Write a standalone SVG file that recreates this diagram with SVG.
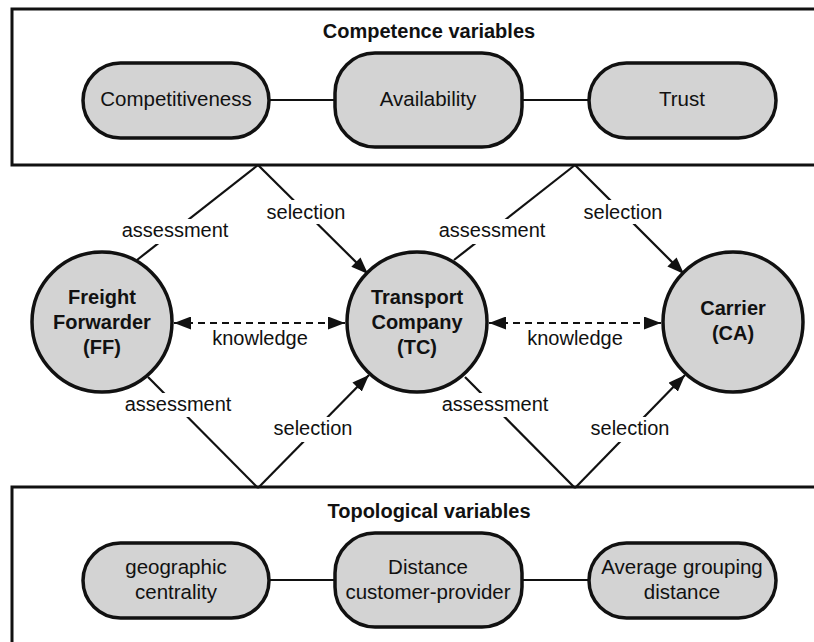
<svg xmlns="http://www.w3.org/2000/svg" width="814" height="642" viewBox="0 0 814 642">
<defs>
<style>
.box{fill:#fff;stroke:#111;stroke-width:3}
.pill{fill:#d3d3d3;stroke:#111;stroke-width:3.5}
.circ{fill:#d3d3d3;stroke:#111;stroke-width:3.5}
.link{stroke:#111;stroke-width:2.2;fill:none}
.dash{stroke:#111;stroke-width:2;fill:none;stroke-dasharray:7 5}
.title{font-family:"Liberation Sans",Arial,sans-serif;font-weight:bold;font-size:20px;fill:#111;text-anchor:middle}
.ptxt{font-family:"Liberation Sans",Arial,sans-serif;font-size:20.5px;fill:#111;text-anchor:middle}
.ctxt{font-family:"Liberation Sans",Arial,sans-serif;font-weight:bold;font-size:20px;fill:#111;text-anchor:middle}
.lbl{font-family:"Liberation Sans",Arial,sans-serif;font-size:20px;fill:#111;text-anchor:middle}
.bg{fill:#fff;stroke:none}
</style>
<marker id="arr" viewBox="0 0 17 13" refX="17" refY="6.5" markerWidth="17" markerHeight="13" markerUnits="userSpaceOnUse" orient="auto-start-reverse">
<path d="M0,0 L17,6.5 L0,13 Z" fill="#111"/>
</marker>
</defs>
<rect width="814" height="642" fill="#fff"/>

<g id="competence-box">
<rect class="box" x="12" y="9" width="812" height="156"/>
<text class="title" x="429" y="38">Competence variables</text>
</g>
<g id="topological-box">
<rect class="box" x="12" y="487" width="812" height="170"/>
<text class="title" x="429" y="518">Topological variables</text>
</g>

<g id="pill-links">
<path class="link" d="M269,100 L335,100 M522,100 L589,100 M269,580 L335,580 M522,580 L589,580"/>
</g>

<g id="competitiveness">
<rect class="pill" x="83" y="63" width="186" height="75" rx="37.5"/>
<text class="ptxt" x="176" y="106">Competitiveness</text>
</g>
<g id="availability">
<rect class="pill" x="335" y="53" width="187" height="94" rx="40"/>
<text class="ptxt" x="428" y="106">Availability</text>
</g>
<g id="trust">
<rect class="pill" x="589" y="63" width="187" height="75" rx="37.5"/>
<text class="ptxt" x="682" y="106">Trust</text>
</g>

<g id="geographic-centrality">
<rect class="pill" x="83" y="543" width="186" height="75" rx="37.5"/>
<text class="ptxt" x="176" y="574">geographic</text>
<text class="ptxt" x="176" y="599">centrality</text>
</g>
<g id="distance-customer-provider">
<rect class="pill" x="335" y="533" width="187" height="94" rx="40"/>
<text class="ptxt" x="428" y="574">Distance</text>
<text class="ptxt" x="428" y="599">customer-provider</text>
</g>
<g id="average-grouping-distance">
<rect class="pill" x="589" y="543" width="187" height="75" rx="37.5"/>
<text class="ptxt" x="682" y="574">Average grouping</text>
<text class="ptxt" x="682" y="599">distance</text>
</g>

<g id="connectors">
<path class="link" d="M258,165 L137,260"/>
<path class="link" d="M258,165 L368,274" marker-end="url(#arr)"/>
<path class="link" d="M148,377 L258,488"/>
<path class="link" d="M258,488 L369,375" marker-end="url(#arr)"/>
<path class="link" d="M575,165 L454,260"/>
<path class="link" d="M575,165 L684,274" marker-end="url(#arr)"/>
<path class="link" d="M465,377 L575,488"/>
<path class="link" d="M575,488 L685,375" marker-end="url(#arr)"/>
<path class="dash" d="M174,323 L345,323" marker-start="url(#arr)" marker-end="url(#arr)"/>
<path class="dash" d="M489,323 L661,323" marker-start="url(#arr)" marker-end="url(#arr)"/>

<rect class="bg" x="119" y="219" width="112" height="25"/>
<text class="lbl" x="175" y="237">assessment</text>
<rect class="bg" x="264" y="200" width="84" height="24"/>
<text class="lbl" x="306" y="219">selection</text>
<rect class="bg" x="122" y="393" width="112" height="24"/>
<text class="lbl" x="178" y="411">assessment</text>
<rect class="bg" x="271" y="417" width="84" height="25"/>
<text class="lbl" x="313" y="435">selection</text>

<rect class="bg" x="436" y="219" width="112" height="25"/>
<text class="lbl" x="492" y="237">assessment</text>
<rect class="bg" x="581" y="200" width="84" height="24"/>
<text class="lbl" x="623" y="219">selection</text>
<rect class="bg" x="439" y="393" width="112" height="24"/>
<text class="lbl" x="495" y="411">assessment</text>
<rect class="bg" x="588" y="417" width="84" height="25"/>
<text class="lbl" x="630" y="435">selection</text>

<text class="lbl" x="260" y="345">knowledge</text>
<text class="lbl" x="575" y="345">knowledge</text>
</g>

<g id="freight-forwarder">
<circle class="circ" cx="102" cy="322" r="70"/>
<text class="ctxt" x="102" y="304">Freight</text>
<text class="ctxt" x="102" y="329">Forwarder</text>
<text class="ctxt" x="102" y="354">(FF)</text>
</g>
<g id="transport-company">
<circle class="circ" cx="417" cy="322" r="70"/>
<text class="ctxt" x="417" y="304">Transport</text>
<text class="ctxt" x="417" y="329">Company</text>
<text class="ctxt" x="417" y="354">(TC)</text>
</g>
<g id="carrier">
<circle class="circ" cx="733" cy="322" r="70"/>
<text class="ctxt" x="733" y="315">Carrier</text>
<text class="ctxt" x="733" y="340">(CA)</text>
</g>
</svg>
